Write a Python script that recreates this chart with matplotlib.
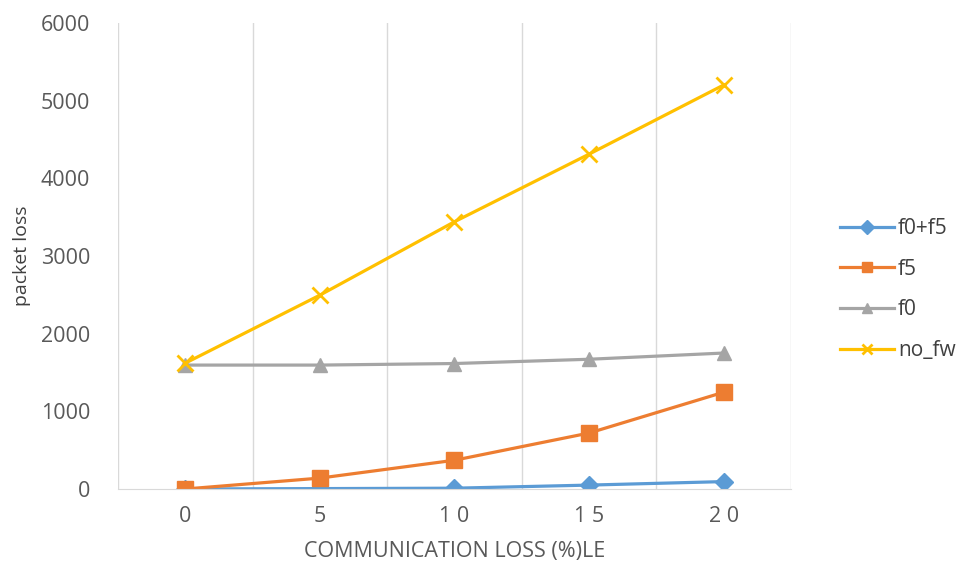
import numpy as np
import matplotlib.pyplot as plt

plt.rcParams['font.family'] = ['Open Sans', 'DejaVu Sans']

# Communication loss levels and packet loss per configuration
loss_labels = ['0', '5', '1 0', '1 5', '2 0']
f0_f5 = [0, 5, 10, 50, 95]
f5 = [0, 140, 370, 720, 1245]
f0 = [1595, 1595, 1615, 1670, 1750]
no_fw = [1620, 2495, 3440, 4310, 5200]

x = np.arange(len(loss_labels))

fig = plt.figure(figsize=(9.64, 5.67), dpi=100)
ax = fig.add_axes([0.1224, 0.1376, 0.698, 0.822])

ax.plot(x, f0_f5, color='#5B9BD5', lw=2.3, marker='D', ms=9.5, label='f0+f5')
ax.plot(x, f5, color='#ED7D31', lw=2.3, marker='s', ms=11, label='f5')
ax.plot(x, f0, color='#A5A5A5', lw=2.3, marker='^', ms=10, label='f0')
ax.plot(x, no_fw, color='#FFC000', lw=2.3, marker='x', ms=11, mew=2, label='no_fw')

ax.set_xlim(-0.5, len(loss_labels) - 0.5)
ax.set_ylim(0, 6000)
ax.set_yticks(np.arange(0, 6001, 1000))
ax.set_xticks(x)
ax.set_xticklabels(loss_labels)

# category-boundary gridlines, as on a spreadsheet category axis
for b in np.arange(-0.5, len(loss_labels), 1.0):
    ax.axvline(b, color='#D9D9D9', lw=1, zorder=0)

for side in ['top', 'right', 'left']:
    ax.spines[side].set_visible(False)
ax.spines['bottom'].set_color('#D9D9D9')
ax.tick_params(length=0, labelsize=15.5, colors='#595959', pad=12)
ax.tick_params(axis='y', pad=20)

ax.set_ylabel('packet loss', fontsize=14, color='#404040', labelpad=7)
ax.set_xlabel('COMMUNICATION LOSS (%)LE', fontsize=15.5, color='#595959', labelpad=10)

leg = ax.legend(loc='center left', bbox_to_anchor=(1.045, 0.428), frameon=False,
                fontsize=15, labelspacing=0.95, handlelength=2.6, handletextpad=0.2,
                markerscale=0.7)
for t in leg.get_texts():
    t.set_color('#404040')

fig.savefig('out.png', dpi=100)
